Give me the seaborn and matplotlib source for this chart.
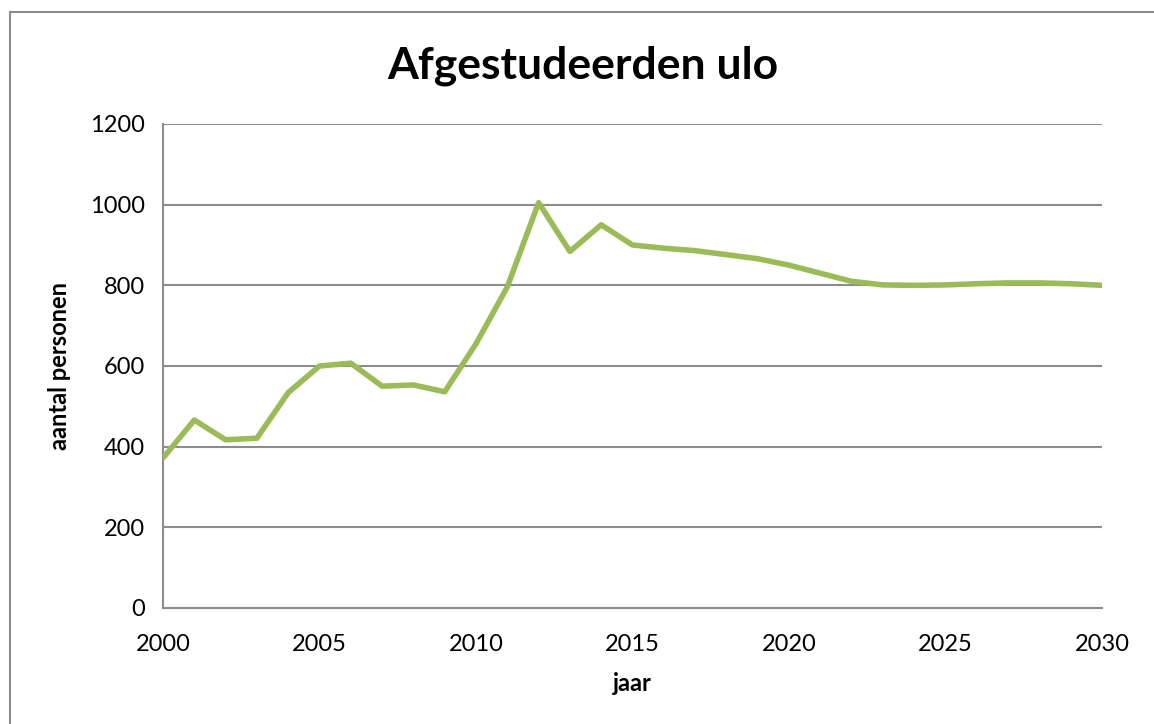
import seaborn as sns
import matplotlib.pyplot as plt
import matplotlib.patches as patches
import pandas as pd

# jaren en aantal afgestudeerden
jaren = list(range(2000, 2031))
aantal = [372, 466, 417, 421, 534, 600, 607, 550, 553, 536,
          655, 796, 1005, 884, 950, 900, 892, 886, 876, 866,
          850, 830, 810, 801, 800, 801, 804, 806, 806, 804, 800]
y_ticks = [0, 200, 400, 600, 800, 1000, 1200]
x_ticks = [2000, 2005, 2010, 2015, 2020, 2025, 2030]

df = pd.DataFrame({'jaar': jaren, 'aantal': aantal})

sns.set_style('white')
plt.rcParams['font.family'] = ['Lato', 'DejaVu Sans']
plt.rcParams['text.color'] = 'black'
plt.rcParams['axes.labelcolor'] = 'black'

fig = plt.figure(figsize=(11.54, 7.24), dpi=100)
ax = fig.add_axes([163 / 1154, 1 - 608 / 724, (1102 - 163) / 1154, (608 - 124) / 724])

grijs = '#8c8c8c'
for t in y_ticks[1:]:
    ax.axhline(t, color=grijs, lw=1.5, zorder=1)

sns.lineplot(data=df, x='jaar', y='aantal', color='#9BBB59', lw=4, ax=ax, zorder=3,
             solid_capstyle='round', solid_joinstyle='round')

ax.set_xlim(2000, 2030)
ax.set_ylim(0, 1200)
ax.set_xticks(x_ticks)
ax.set_xticks(jaren, minor=True)
ax.set_yticks(y_ticks)
ax.tick_params(axis='both', which='both', direction='out', color=grijs, width=1.5,
               labelsize=17, labelcolor='black')
ax.tick_params(axis='x', which='both', length=7, pad=12)
ax.tick_params(axis='y', length=7, pad=6)

for s in ['top', 'right']:
    ax.spines[s].set_visible(False)
for s in ['left', 'bottom']:
    ax.spines[s].set_color(grijs)
    ax.spines[s].set_linewidth(1.5)

ax.set_xlabel('jaar', fontsize=17, fontweight='bold', labelpad=12)
ax.set_ylabel('aantal personen', fontsize=17, fontweight='bold', labelpad=14)

fig.text(583 / 1154, 1 - 66 / 724, 'Afgestudeerden ulo', fontsize=32, fontweight='bold',
         ha='center', va='center', color='black')

# rand rond de grafiek
rand = patches.Rectangle((10 / 1154, -0.02), 1.0, (724 - 12) / 724 + 0.02,
                         transform=fig.transFigure, fill=False, edgecolor=grijs,
                         lw=1.5, clip_on=False)
fig.patches.append(rand)

fig.savefig('out.png', dpi=100)
